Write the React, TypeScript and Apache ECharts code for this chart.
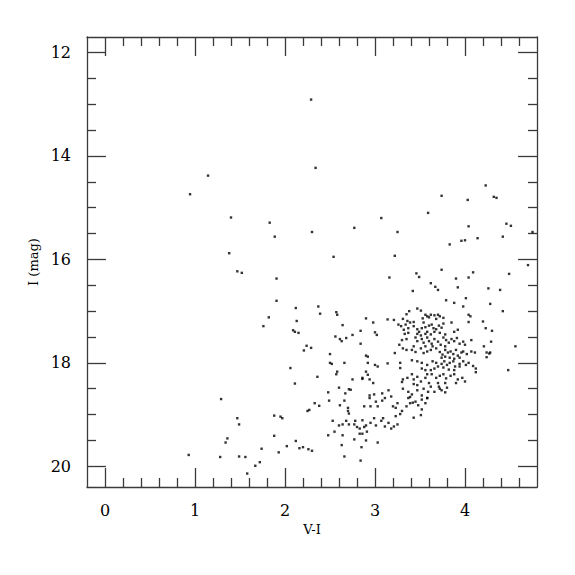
import React, { useEffect, useRef } from "react";
import * as echarts from "echarts";

// [V-I, I] pairs
const brightStars: number[][] = [
  [2.29, 12.91], [2.34, 14.23], [1.145, 14.38], [0.945, 14.74], [1.4, 15.19], [1.83, 15.29],
  [1.886, 15.56], [2.3, 15.47], [2.77, 15.39], [3.07, 15.2], [3.25, 15.47], [3.59, 15.1],
  [3.74, 14.77], [4.03, 14.85], [4.23, 14.57], [4.32, 14.79], [4.35, 14.81], [4.46, 15.31],
  [4.51, 15.35], [4.42, 15.56], [4.75, 15.47], [4.04, 15.36], [4.14, 15.59], [4.0, 15.63],
  [3.96, 15.64], [3.83, 15.71], [1.38, 15.88], [2.54, 15.95], [3.22, 15.93], [1.47, 16.23],
  [1.52, 16.26], [1.906, 16.37], [3.16, 16.35], [3.46, 16.27], [3.49, 16.34], [3.74, 16.2],
  [3.9, 16.37], [4.04, 16.35], [4.09, 16.25], [4.7, 16.11], [4.49, 16.28], [3.62, 16.46],
  [3.67, 16.53], [3.7, 16.59], [3.42, 16.61], [3.92, 16.54], [4.26, 16.56], [4.39, 16.59],
  [1.906, 16.8], [2.37, 16.91], [2.12, 16.94], [3.79, 16.79], [3.88, 16.84], [3.98, 16.91],
  [4.01, 16.75], [4.28, 16.86], [4.42, 17.0],
];

const blueSideStars: number[][] = [
  [2.39, 17.05], [2.57, 17.02], [2.58, 17.07], [1.82, 17.12], [2.13, 17.19], [1.76, 17.29],
  [2.09, 17.37], [2.11, 17.4], [2.15, 17.42], [2.9, 17.14], [2.98, 17.22], [3.0, 17.41],
  [3.02, 17.46], [2.64, 17.27], [2.56, 17.49], [2.61, 17.54], [2.63, 17.58], [2.68, 17.52],
  [2.75, 17.46], [2.84, 17.38], [2.84, 17.63], [3.14, 17.16], [3.21, 17.17], [4.04, 17.07],
  [4.06, 17.1], [4.04, 17.21], [4.2, 17.2], [4.23, 17.33], [4.3, 17.38], [4.29, 17.59],
  [4.21, 17.68], [4.24, 17.8], [4.27, 17.82], [4.28, 17.8], [4.24, 17.89], [4.56, 17.68],
  [4.48, 18.14], [2.29, 17.71], [2.24, 17.67], [2.21, 17.76], [2.5, 17.83], [2.5, 18.0],
  [2.52, 18.02], [2.66, 18.0], [2.06, 18.1], [2.58, 18.17], [2.57, 18.22], [2.11, 18.4],
  [2.36, 18.27], [2.9, 17.86], [2.92, 17.88], [2.92, 18.0], [3.14, 18.01], [3.28, 18.0],
  [3.28, 18.1], [3.22, 17.81], [3.0, 18.04], [3.03, 18.07], [2.9, 18.17], [2.92, 18.23],
  [2.86, 18.29], [2.86, 18.31], [2.94, 18.32], [2.98, 18.39], [3.15, 18.53], [3.3, 18.37],
  [3.31, 18.32], [2.71, 18.51], [2.73, 18.52], [2.6, 18.48], [2.75, 18.32], [2.67, 18.59],
  [2.48, 18.57],
];

const faintStars: number[][] = [
  [2.94, 18.63], [2.94, 18.68], [2.99, 18.61], [3.08, 18.59], [3.11, 18.68], [3.08, 18.73],
  [3.01, 18.75], [3.03, 18.84], [2.95, 18.84], [2.88, 18.84], [2.66, 18.73], [2.61, 18.82],
  [2.49, 18.73], [2.33, 18.78], [2.38, 18.83], [2.25, 18.93], [2.27, 18.91], [2.7, 18.87],
  [2.7, 18.93], [2.71, 18.98], [3.18, 18.65], [3.2, 18.84], [3.23, 18.87], [3.25, 18.78],
  [3.28, 18.99], [3.23, 19.03], [3.3, 18.93], [3.35, 18.84], [3.42, 18.77], [3.39, 18.66],
  [3.43, 19.06], [3.51, 19.01], [3.52, 18.9], [3.56, 18.78], [1.88, 19.02], [1.95, 19.04],
  [1.97, 19.07], [1.47, 19.07], [1.49, 19.19], [2.53, 19.12], [2.6, 19.21], [2.64, 19.19],
  [2.68, 19.12], [2.71, 19.19], [2.78, 19.12], [2.77, 19.19], [2.8, 19.24], [2.83, 19.27],
  [2.86, 19.11], [2.88, 19.24], [2.9, 19.21], [2.95, 19.16], [2.99, 19.07], [3.01, 19.21],
  [3.07, 19.12], [3.09, 19.07], [3.11, 19.23], [3.15, 19.16], [3.18, 19.27], [3.21, 19.23],
  [3.25, 19.19], [2.83, 19.37], [2.86, 19.37], [2.91, 19.33], [2.55, 19.33], [2.48, 19.4],
  [2.64, 19.4], [2.77, 19.48], [2.9, 19.5], [3.03, 19.54], [2.63, 19.59], [2.85, 19.63],
  [2.66, 19.81], [2.84, 19.89], [1.29, 18.7], [1.36, 19.46], [1.34, 19.54], [1.88, 19.41],
  [2.12, 19.51], [2.16, 19.65], [2.2, 19.63], [2.26, 19.67], [2.3, 19.7], [2.02, 19.61],
  [1.93, 19.73], [1.74, 19.66], [1.72, 19.92], [1.67, 19.99], [1.49, 19.81], [1.56, 19.82],
  [1.28, 19.82], [0.93, 19.78], [1.58, 20.14],
];

const clumpUpper: number[][] = [
  [3.35, 17.06], [3.38, 17.0], [3.47, 16.95], [3.51, 16.99], [3.56, 17.07], [3.58, 17.1],
  [3.62, 17.07], [3.66, 17.08], [3.7, 17.07], [3.72, 17.1], [3.76, 17.13], [3.31, 17.15],
  [3.36, 17.19], [3.39, 17.22], [3.43, 17.21], [3.53, 17.14], [3.6, 17.12], [3.68, 17.15],
  [3.26, 17.26], [3.29, 17.29], [3.32, 17.36], [3.34, 17.26], [3.37, 17.33], [3.43, 17.29],
  [3.47, 17.35], [3.49, 17.4], [3.52, 17.33], [3.54, 17.22], [3.56, 17.31], [3.6, 17.28],
  [3.63, 17.26], [3.65, 17.33], [3.68, 17.35], [3.71, 17.28], [3.74, 17.32], [3.76, 17.24],
  [3.85, 17.22], [3.88, 17.4], [3.92, 17.36], [3.33, 17.44], [3.37, 17.42], [3.47, 17.44],
  [3.51, 17.47], [3.56, 17.44], [3.58, 17.4], [3.62, 17.45], [3.66, 17.4], [3.72, 17.42],
  [3.78, 17.45], [3.3, 17.56], [3.35, 17.54], [3.45, 17.51], [3.47, 17.58], [3.52, 17.54],
  [3.54, 17.61], [3.58, 17.51], [3.6, 17.58], [3.63, 17.63], [3.66, 17.54], [3.7, 17.59],
  [3.73, 17.65], [3.76, 17.51], [3.79, 17.56], [3.82, 17.61], [3.85, 17.54], [3.88, 17.58],
  [3.91, 17.52], [3.94, 17.63], [3.98, 17.59], [4.0, 17.65], [4.07, 17.56], [3.27, 17.65],
  [3.43, 17.68], [3.56, 17.68], [3.64, 17.68], [3.78, 17.68],
];

const clumpLower: number[][] = [
  [3.31, 17.72], [3.35, 17.75], [3.41, 17.75], [3.45, 17.79], [3.51, 17.72], [3.54, 17.81],
  [3.58, 17.78], [3.62, 17.75], [3.68, 17.72], [3.72, 17.79], [3.75, 17.84], [3.78, 17.75],
  [3.81, 17.8], [3.84, 17.78], [3.87, 17.83], [3.9, 17.75], [3.92, 17.86], [3.96, 17.8],
  [3.98, 17.78], [4.02, 17.83], [4.07, 17.78], [4.11, 17.8], [3.74, 17.9], [3.78, 17.88],
  [3.83, 17.9], [3.88, 17.92], [3.94, 17.9], [3.41, 17.95], [3.47, 17.97], [3.52, 18.0],
  [3.58, 18.04], [3.64, 17.97], [3.68, 18.0], [3.7, 18.07], [3.74, 18.02], [3.77, 17.97],
  [3.8, 18.04], [3.83, 18.0], [3.87, 17.97], [3.89, 18.07], [3.94, 18.02], [3.98, 17.97],
  [4.01, 18.04], [4.04, 18.0], [4.09, 18.06], [4.12, 18.11], [4.12, 18.18], [3.52, 18.11],
  [3.56, 18.14], [3.62, 18.14], [3.66, 18.11], [3.76, 18.09], [3.82, 18.13], [3.88, 18.14],
  [3.94, 18.07], [3.36, 18.29], [3.41, 18.22], [3.43, 18.32], [3.47, 18.27], [3.51, 18.36],
  [3.56, 18.29], [3.58, 18.22], [3.63, 18.22], [3.68, 18.29], [3.72, 18.25], [3.76, 18.22],
  [3.79, 18.3], [3.84, 18.25], [3.88, 18.22], [3.92, 18.32], [3.97, 18.29], [4.0, 18.36],
  [3.9, 18.39], [3.78, 18.39], [3.43, 18.41], [3.47, 18.43], [3.6, 18.39], [3.7, 18.39],
  [3.31, 18.5], [3.37, 18.56], [3.41, 18.61], [3.47, 18.53], [3.54, 18.5], [3.58, 18.68],
  [3.59, 18.56], [3.62, 18.46], [3.66, 18.56], [3.72, 18.5], [3.74, 18.53], [3.78, 18.57],
  [3.8, 18.48], [3.71, 18.46], [3.52, 18.63], [3.37, 18.68], [3.39, 18.78], [3.45, 18.75],
  [3.48, 18.82], [3.52, 18.71], [3.58, 18.68],
];

const xMajorTicks = [0, 1, 2, 3, 4];
const yMajorTicks = [12, 14, 16, 18, 20];

export default function App() {
  const ref = useRef<HTMLDivElement>(null);
  useEffect(() => {
    if (!ref.current) return;
    const chart = echarts.init(ref.current, null, { renderer: "svg" });
    const lineColor = "#3a3a3a";
    const font = "DejaVu Serif";
    const xBase = {
      type: "value" as const,
      min: -0.2,
      max: 4.8,
      splitLine: { show: false },
      axisLine: { show: true, onZero: false, lineStyle: { color: lineColor, width: 1.3 } },
      axisTick: { show: true, inside: true, length: 19, customValues: xMajorTicks, lineStyle: { color: lineColor, width: 1.3 } },
      minorTick: { show: true, splitNumber: 5, length: 9, lineStyle: { color: lineColor, width: 1.3 } },
    };
    const yBase = {
      type: "value" as const,
      min: 11.7,
      max: 20.4,
      inverse: true,
      splitLine: { show: false },
      axisLine: { show: true, onZero: false, lineStyle: { color: lineColor, width: 1.3 } },
      axisTick: { show: true, inside: true, length: 19, customValues: yMajorTicks, lineStyle: { color: lineColor, width: 1.3 } },
      minorTick: { show: true, splitNumber: 4, length: 9, lineStyle: { color: lineColor, width: 1.3 } },
    };
    const allStars = [...brightStars, ...blueSideStars, ...faintStars, ...clumpUpper, ...clumpLower];
    chart.setOption({
      animation: false,
      backgroundColor: "#fff",
      grid: { left: 87, top: 37, width: 450, height: 450, containLabel: false },
      xAxis: [
        {
          ...xBase,
          position: "bottom",
          name: "V-I",
          nameLocation: "middle",
          nameGap: 31,
          nameTextStyle: { fontFamily: font, fontSize: 13, color: "#000" },
          axisLabel: {
            show: true,
            customValues: xMajorTicks,
            margin: 15,
            fontFamily: font,
            fontSize: 16,
            color: "#000",
          },
        },
        { ...xBase, position: "top", axisLabel: { show: false } },
      ],
      yAxis: [
        {
          ...yBase,
          position: "left",
          name: "I (mag)",
          nameLocation: "middle",
          nameGap: 46,
          nameTextStyle: { fontFamily: font, fontSize: 13, color: "#000" },
          axisLabel: {
            show: true,
            customValues: yMajorTicks,
            margin: 16,
            fontFamily: font,
            fontSize: 16,
            color: "#000",
          },
        },
        { ...yBase, position: "right", axisLabel: { show: false } },
      ],
      series: [
        {
          type: "scatter",
          xAxisIndex: 0,
          yAxisIndex: 0,
          symbol: "rect",
          symbolSize: 2.4,
          itemStyle: { color: "#000" },
          data: allStars,
        },
      ],
    });
    return () => chart.dispose();
  }, []);
  return (
    <div
      ref={ref}
      style={{ position: "fixed", left: 0, top: 0, width: 575, height: 575, background: "#fff" }}
    />
  );
}
